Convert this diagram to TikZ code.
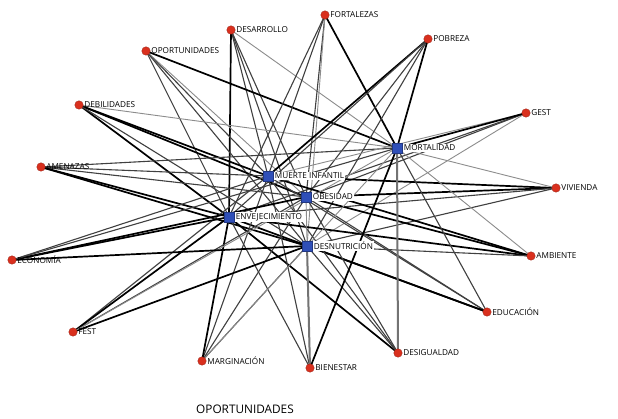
\documentclass[tikz,border=0pt]{standalone}
\usepackage{fontspec}
\setmainfont{Open Sans}
\usetikzlibrary{backgrounds}
\definecolor{nodered}{HTML}{D9301E}
\definecolor{nodeblue}{HTML}{2F4FB8}
\begin{document}
\begin{tikzpicture}[x=1pt,y=-1pt,
  rn/.style={circle,fill=nodered,draw=nodered!70!black,line width=0.3pt,inner sep=0pt,minimum size=8.5pt},
  bn/.style={rectangle,fill=nodeblue,draw=nodeblue!70!black,line width=0.3pt,inner sep=0pt,minimum size=9.5pt},
  lab/.style={font=\fontsize{8.2}{9}\selectfont,inner sep=0.8pt},
  rlab/.style={label={[lab,anchor=west]east:#1}},
  blab/.style={label={[lab,anchor=west,fill=white,xshift=1pt]east:#1}},
  eA/.style={draw=black,line width=1.7pt},
  eB/.style={draw=black!75,line width=1.1pt},
  eC/.style={draw=black!45,line width=0.9pt},
  eG/.style={draw=black!55,line width=2pt},
  title/.style={font=\fontsize{11.8}{13}\selectfont}]
\useasboundingbox (0,0) rectangle (618,419);
% blue nodes
\node[bn,blab={MUERTE INFANTIL}] (mi) at (268,176) {};
\node[bn,blab={OBESIDAD}] (ob) at (306,197) {};
\node[bn,blab={ENVEJECIMIENTO}] (en) at (229,217) {};
\node[bn,blab={DESNUTRICIÓN}] (dn) at (307,246) {};
\node[bn,blab={MORTALIDAD}] (mo) at (397,148) {};
% red nodes
\node[rn,rlab={DESARROLLO}] (desarrollo) at (231,30) {};
\node[rn,rlab={OPORTUNIDADES}] (oportunidades) at (146,51) {};
\node[rn,rlab={DEBILIDADES}] (debilidades) at (79,105) {};
\node[rn,rlab={AMENAZAS}] (amenazas) at (41,167) {};
\node[rn,rlab={FORTALEZAS}] (fortalezas) at (325,15) {};
\node[rn,rlab={POBREZA}] (pobreza) at (428,39) {};
\node[rn,rlab={GEST}] (gest) at (526,113) {};
\node[rn,rlab={VIVIENDA}] (vivienda) at (556,188) {};
\node[rn,rlab={AMBIENTE}] (ambiente) at (531,256) {};
\node[rn,rlab={EDUCACIÓN}] (educacion) at (487,312) {};
\node[rn,rlab={DESIGUALDAD}] (desigualdad) at (398,353) {};
\node[rn,rlab={BIENESTAR}] (bienestar) at (310,368) {};
\node[rn,rlab={MARGINACIÓN}] (marginacion) at (202,361) {};
\node[rn,rlab={FEST}] (fest) at (73,332) {};
\node[rn,rlab={ECONOMÍA}] (economia) at (12,260) {};
% title
\node[title] (ttl) at (245,409) {OPORTUNIDADES};
% edges
\begin{scope}[on background layer]
\fill[white] (0,0) rectangle (618,419);
\foreach \r/\a/\b/\c/\d/\e in {
  desarrollo/B/B/A/B/C,
  oportunidades/B/C/B/B/A,
  debilidades/A/A/A/B/C,
  amenazas/B/B/A/A/B,
  fortalezas/B/B/B/C/A,
  pobreza/A/B/B/B/A,
  gest/C/B/B/C/A,
  vivienda/A/A/B/B/C,
  ambiente/A/A/A/B/C,
  educacion/B/B/A/A/B,
  desigualdad/B/B/A/B/G,
  bienestar/B/C/B/G/A,
  marginacion/B/B/A/B/C,
  fest/B/B/A/A/C,
  economia/B/A/A/A/B}{
  \draw[e\a] (\r.center) -- (mi.center);
  \draw[e\b] (\r.center) -- (ob.center);
  \draw[e\c] (\r.center) -- (en.center);
  \draw[e\d] (\r.center) -- (dn.center);
  \draw[e\e] (\r.center) -- (mo.center);
}
\end{scope}
\end{tikzpicture}
\end{document}
